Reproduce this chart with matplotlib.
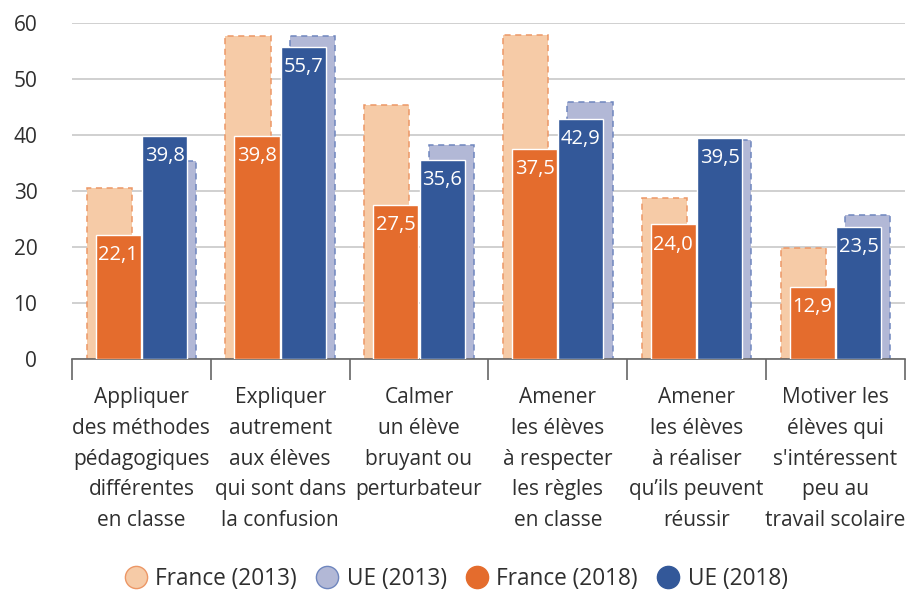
import numpy as np
import matplotlib
matplotlib.use("Agg")
import matplotlib.pyplot as plt
from matplotlib.lines import Line2D

plt.rcParams['font.family'] = ['Open Sans', 'DejaVu Sans']

categories = [
    "Appliquer\ndes méthodes\npédagogiques\ndifférentes\nen classe",
    "Expliquer\nautrement\naux élèves\nqui sont dans\nla confusion",
    "Calmer\nun élève\nbruyant ou\nperturbateur",
    "Amener\nles élèves\nà respecter\nles règles\nen classe",
    "Amener\nles élèves\nà réaliser\nqu\u2019ils peuvent\nréussir",
    "Motiver les\nélèves qui\ns'intéressent\npeu au\ntravail scolaire",
]
france_2013 = [30.6, 57.7, 45.4, 57.8, 28.7, 19.8]
ue_2013 = [35.4, 57.7, 38.2, 45.8, 39.1, 25.6]
france_2018 = [22.1, 39.8, 27.5, 37.5, 24.0, 12.9]
ue_2018 = [39.8, 55.7, 35.6, 42.9, 39.5, 23.5]

c_fr18 = '#E46C2D'
c_ue18 = '#335899'
c_fr13 = '#F6CBA7'
c_ue13 = '#B2B8D6'
e_fr13 = '#EC9766'
e_ue13 = '#6F86BE'
txt = '#2F2F2F'

fig = plt.figure(figsize=(9.12, 5.9), dpi=100)
ax = fig.add_axes([0.079, 0.392, 0.913, 0.569])

x = np.arange(len(categories))
w = 0.325
off = 0.167
shift = 0.065

# 2013 bars sit behind, shifted outwards
ax.bar(x - off - shift, france_2013, w, color=c_fr13, edgecolor=e_fr13,
       linestyle=(0, (4, 3)), linewidth=1.1, zorder=2)
ax.bar(x + off + shift, ue_2013, w, color=c_ue13, edgecolor=e_ue13,
       linestyle=(0, (4, 3)), linewidth=1.1, zorder=2)
b1 = ax.bar(x - off, france_2018, w, color=c_fr18, edgecolor='white',
            linewidth=1, zorder=3)
b2 = ax.bar(x + off, ue_2018, w, color=c_ue18, edgecolor='white',
            linewidth=1, zorder=3)

for bars, vals in [(b1, france_2018), (b2, ue_2018)]:
    for b, v in zip(bars, vals):
        ax.annotate(f"{v:.1f}".replace('.', ','),
                    (b.get_x() + b.get_width() / 2, v),
                    xytext=(0, -14.5), textcoords='offset points',
                    ha='center', va='center', color='white', fontsize=14.5,
                    zorder=4)

ax.set_xlim(-0.5, len(categories) - 0.5)
ax.set_ylim(0, 60)
ax.set_yticks(range(0, 61, 10))
ax.yaxis.grid(True, color='#C8C8C8', linewidth=1.2, zorder=0)
ax.set_axisbelow(True)
ax.tick_params(axis='y', length=0, pad=25, labelsize=15, labelcolor=txt)

ax.set_xticks(x)
ax.set_xticklabels(categories, fontsize=15, color=txt, linespacing=1.61)
ax.set_xticks(np.arange(-0.5, len(categories)), minor=True)
ax.tick_params(axis='x', which='major', length=0, pad=20.5)
ax.tick_params(axis='x', which='minor', length=15, width=1.2, color='#666666')

for s in ['top', 'right', 'left']:
    ax.spines[s].set_visible(False)
ax.spines['bottom'].set_color('#666666')
ax.spines['bottom'].set_linewidth(1.2)

handles = [
    Line2D([], [], marker='o', linestyle='', markersize=16,
           markerfacecolor=c_fr13, markeredgecolor=e_fr13, label='France (2013)'),
    Line2D([], [], marker='o', linestyle='', markersize=16,
           markerfacecolor=c_ue13, markeredgecolor=e_ue13, label='UE (2013)'),
    Line2D([], [], marker='o', linestyle='', markersize=16,
           markerfacecolor=c_fr18, markeredgecolor=c_fr18, label='France (2018)'),
    Line2D([], [], marker='o', linestyle='', markersize=16,
           markerfacecolor=c_ue18, markeredgecolor=c_ue18, label='UE (2018)'),
]
leg = fig.legend(handles=handles, loc='center', bbox_to_anchor=(0.5, 0.019),
                 ncol=4, frameon=False, fontsize=16.3, handletextpad=0.35,
                 columnspacing=0.85, handlelength=1.0)
for t in leg.get_texts():
    t.set_color(txt)

fig.savefig('out.png', dpi=100)
